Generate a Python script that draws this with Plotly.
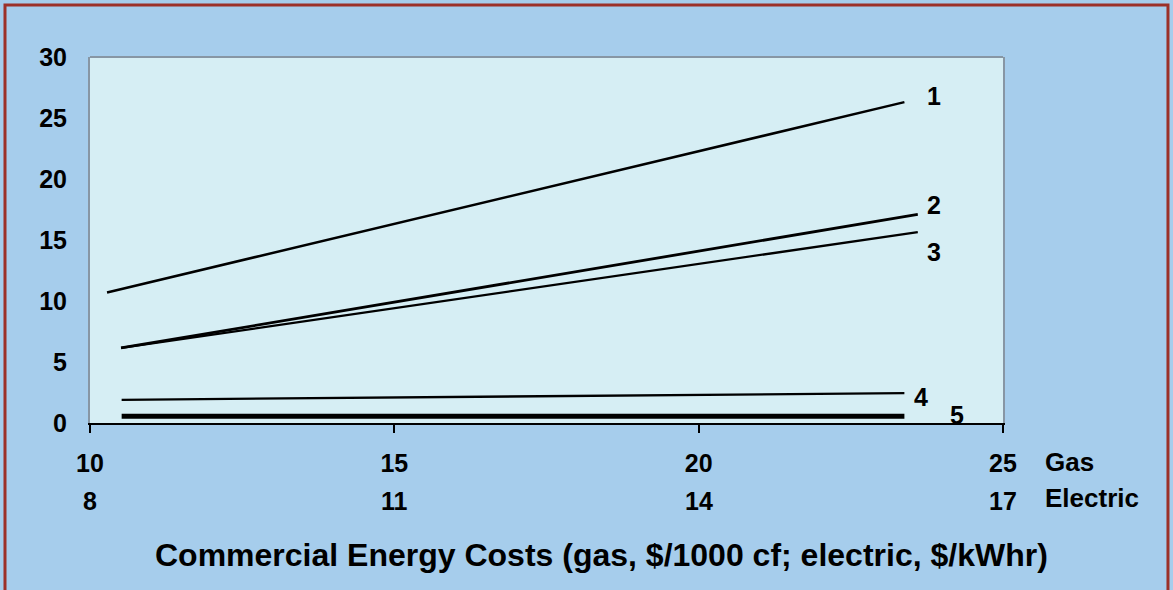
import plotly.graph_objects as go

# ---- data ----
line_names = ["1", "2", "3", "4", "5"]
gas_x = [[10.28, 23.38], [10.51, 23.6], [10.51, 23.6], [10.52, 23.38], [10.52, 23.38]]
cost_y = [[10.7, 26.3], [6.15, 17.1], [6.15, 15.65], [1.9, 2.45], [0.55, 0.55]]
line_widths = [2.5, 2.8, 2.3, 2.3, 5]

label_x = [23.86, 23.86, 23.86, 23.66, 24.24]
label_y = [26.8, 17.9, 14.0, 2.1, 0.65]

gas_ticks = [10, 15, 20, 25]
electric_ticks = ["8", "11", "14", "17"]
y_ticks = [0, 5, 10, 15, 20, 25, 30]

FONT = "Liberation Sans, Arial, sans-serif"
BG = "#a6cdec"
PLOT_BG = "#d6eef4"
GRAY = "#8796a4"
NUM = 25

fig = go.Figure()
for name, xs, ys, w in zip(line_names, gas_x, cost_y, line_widths):
    fig.add_trace(go.Scatter(x=xs, y=ys, mode="lines", name=name,
                             line=dict(color="black", width=w), showlegend=False))

annotations = []
for name, lx, ly in zip(line_names, label_x, label_y):
    annotations.append(dict(x=lx, y=ly, xref="x", yref="y", text="<b>%s</b>" % name,
                            xanchor="center", yanchor="middle",
                            showarrow=False, font=dict(size=NUM, color="black", family=FONT)))
for gx, et in zip(gas_ticks, electric_ticks):
    annotations.append(dict(x=gx, y=-0.212, xref="x", yref="paper", text="<b>%s</b>" % et,
                            xanchor="center", yanchor="middle",
                            showarrow=False, font=dict(size=NUM, color="black", family=FONT)))
annotations.append(dict(x=1.044, y=-0.1066, xref="paper", yref="paper", text="<b>Gas</b>",
                        xanchor="left", yanchor="middle", showarrow=False,
                        font=dict(size=26, color="black", family=FONT)))
annotations.append(dict(x=1.044, y=-0.205, xref="paper", yref="paper", text="<b>Electric</b>",
                        xanchor="left", yanchor="middle", showarrow=False,
                        font=dict(size=26, color="black", family=FONT)))
annotations.append(dict(x=0.5597, y=-0.361, xref="paper", yref="paper",
                        text="<b>Commercial Energy Costs (gas, $/1000 cf; electric, $/kWhr)</b>",
                        xanchor="center", yanchor="middle",
                        showarrow=False, font=dict(size=32, color="black", family=FONT)))

shapes = [
    dict(type="line", xref="paper", yref="paper", x0=0, x1=1, y0=1, y1=1,
         line=dict(color=GRAY, width=2)),
    dict(type="rect", xref="paper", yref="paper", x0=-0.0931, x1=1.1807, y0=-0.48, y1=1.142,
         line=dict(color="#9c3028", width=3), layer="below"),
]

fig.update_layout(
    width=1173, height=590,
    margin=dict(l=90, r=170, t=57, b=167),
    paper_bgcolor=BG, plot_bgcolor=PLOT_BG,
    font=dict(family=FONT, color="black"),
    annotations=annotations, shapes=shapes,
    xaxis=dict(range=[10, 25], tickvals=gas_ticks, ticktext=["<b>%d</b>" % v for v in gas_ticks],
               showgrid=False, zeroline=False, showline=True, linecolor="black", linewidth=2,
               ticks="outside", ticklen=8, tickwidth=2, tickcolor="black",
               ticklabelstandoff=9, tickfont=dict(size=NUM, family=FONT, color="black")),
    yaxis=dict(range=[0, 30], tickvals=y_ticks, ticktext=["<b>%d</b>" % v for v in y_ticks],
               showgrid=False, zeroline=False, showline=True, linecolor=GRAY, linewidth=2,
               mirror=True, ticks="", ticklabelstandoff=16,
               tickfont=dict(size=NUM, family=FONT, color="black")),
)

fig.write_html("out.html", config={"displayModeBar": False},
               post_script="document.body.style.margin='0';")
